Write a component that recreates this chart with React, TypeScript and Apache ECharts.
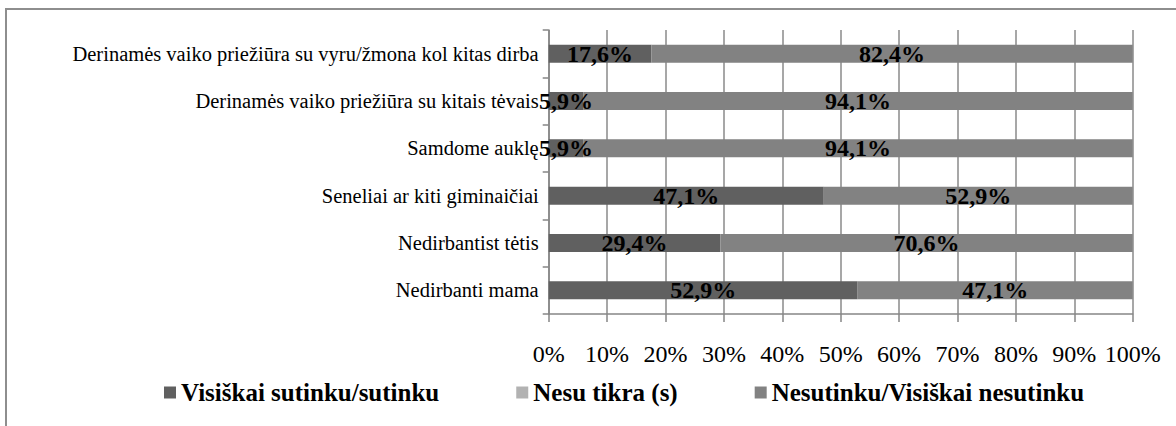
import React, { useEffect, useRef } from "react";
import * as echarts from "echarts";

const categories = [
  "Derinamės vaiko priežiūra su vyru/žmona kol kitas dirba",
  "Derinamės vaiko priežiūra su kitais tėvais",
  "Samdome auklę",
  "Seneliai ar kiti giminaičiai",
  "Nedirbantist tėtis",
  "Nedirbanti mama",
];
const seriesNames = [
  "Visiškai sutinku/sutinku",
  "Nesu tikra (s)",
  "Nesutinku/Visiškai nesutinku",
];
const agree = [17.6, 5.9, 5.9, 47.1, 29.4, 52.9];
const unsure = [0, 0, 0, 0, 0, 0];
const disagree = [82.4, 94.1, 94.1, 52.9, 70.6, 47.1];
const xTicks = [0, 10, 20, 30, 40, 50, 60, 70, 80, 90, 100];

const FONT = "Liberation Serif";
const colors = ["#606060", "#b2b2b2", "#828282"];

export default function App() {
  const ref = useRef<HTMLDivElement>(null);
  useEffect(() => {
    if (!ref.current) return;
    const chart = echarts.init(ref.current, undefined, { renderer: "svg" });
    const fmt = (p: any) =>
      p.value ? Number(p.value).toFixed(1).replace(".", ",") + "%" : "";
    const label = {
      show: true,
      position: "inside",
      formatter: fmt,
      color: "#000",
      fontFamily: FONT,
      fontWeight: "bold",
      fontSize: 24,
    };
    const data = [agree, unsure, disagree];
    chart.setOption({
      animation: false,
      color: colors,
      textStyle: { fontFamily: FONT },
      graphic: [
        {
          type: "rect",
          shape: { x: 6, y: 9, width: 1400, height: 600 },
          style: { fill: "none", stroke: "#8e8e8e", lineWidth: 2 },
          silent: true,
        },
      ],
      grid: { left: 548.7, right: 43.3, top: 30, bottom: 112, containLabel: false },
      legend: {
        left: 159,
        top: 375,
        itemWidth: 12,
        itemHeight: 12,
        itemGap: 77,
        icon: "rect",
        data: seriesNames,
        textStyle: {
          fontFamily: FONT,
          fontWeight: "bold",
          fontSize: 25,
          color: "#000",
        },
      },
      xAxis: {
        type: "value",
        min: xTicks[0],
        max: xTicks[xTicks.length - 1],
        interval: 10,
        axisLine: { show: true, lineStyle: { color: "#868686", width: 1.5 } },
        axisTick: { show: true, length: 8, lineStyle: { color: "#868686", width: 1.5 } },
        splitLine: { show: true, lineStyle: { color: "#8a8a8a", width: 1.5 } },
        axisLabel: {
          formatter: (v: number) => v + "%",
          fontFamily: FONT,
          fontSize: 24,
          color: "#000",
          margin: 28,
        },
      },
      yAxis: {
        type: "category",
        inverse: true,
        data: categories,
        axisLine: { show: true, lineStyle: { color: "#868686", width: 1.5 } },
        axisTick: { show: true, length: 6, lineStyle: { color: "#868686", width: 1.5 } },
        axisLabel: {
          fontFamily: FONT,
          fontSize: 20.5,
          color: "#000",
          margin: 10,
        },
      },
      series: seriesNames.map((name, i) => ({
        name,
        type: "bar",
        stack: "total",
        barWidth: 18,
        data: data[i],
        label,
        itemStyle: { color: colors[i] },
      })),
    });
    return () => chart.dispose();
  }, []);
  return (
    <div
      ref={ref}
      style={{ position: "fixed", left: 0, top: 0, width: 1176, height: 426, background: "#fff" }}
    />
  );
}
